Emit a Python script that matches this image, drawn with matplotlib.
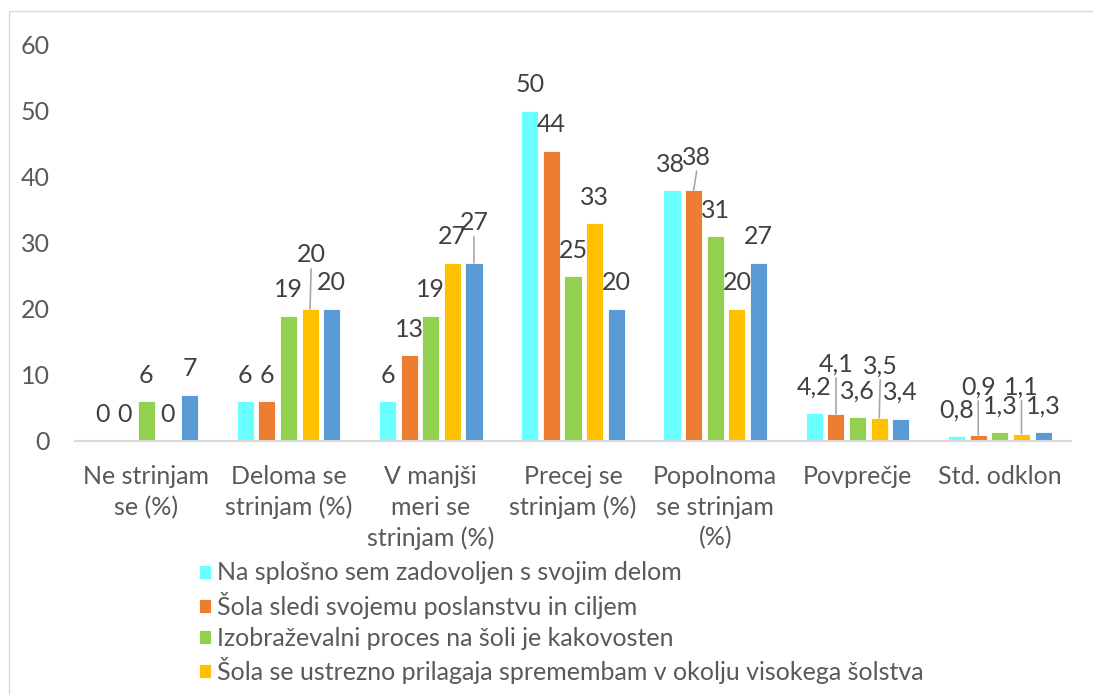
import matplotlib
matplotlib.use('Agg')
import matplotlib.pyplot as plt
from matplotlib.patches import Rectangle

plt.rcParams['font.family'] = ['Lato', 'DejaVu Sans']

categories = ['Ne strinjam\nse (%)', 'Deloma se\nstrinjam (%)', 'V manjši\nmeri se\nstrinjam (%)',
              'Precej se\nstrinjam (%)', 'Popolnoma\nse strinjam\n(%)', 'Povprečje', 'Std. odklon']
series_names = ['Na splošno sem zadovoljen s svojim delom',
                'Šola sledi svojemu poslanstvu in ciljem',
                'Izobraževalni proces na šoli je kakovosten',
                'Šola se ustrezno prilagaja spremembam v okolju visokega šolstva']
zadovoljen = [0, 6, 6, 50, 38, 4.2, 0.8]
poslanstvo = [0, 6, 13, 44, 38, 4.1, 0.9]
proces = [6, 19, 19, 25, 31, 3.6, 1.3]
prilagaja = [0, 20, 27, 33, 20, 3.5, 1.1]
peta = [7, 20, 27, 20, 27, 3.4, 1.3]
series = [zadovoljen, poslanstvo, proces, prilagaja, peta]
colors = ['#69FFFF', '#ED7D31', '#92D050', '#FFC000', '#5B9BD5']

# labels dragged away from the bar by hand: (group, series) -> (dx, extra dy) in pixels
moved = {(1, 3): (1, 28), (2, 4): (0, 14), (4, 0): (-2, 0), (4, 1): (3, 7), (5, 1): (0, 24),
         (5, 3): (1, 26), (6, 1): (0, 22), (6, 3): (0, 21)}

W, H = 1093, 695
fig = plt.figure(figsize=(W / 100, H / 100), dpi=100)
ax = fig.add_axes([75 / W, 1 - 441 / H, (1071 - 75) / W, (441 - 45) / H])

txt = '#595959'
fs = 18
width = 0.12
step = 0.152
bars = []
for i, vals in enumerate(series):
    xs = [g + (i - 2) * step for g in range(len(categories))]
    b = ax.bar(xs, vals, width, color=colors[i], edgecolor='white', linewidth=0.6, zorder=2)
    bars.append(b)
    for g, (x, v) in enumerate(zip(xs, vals)):
        s = ('%g' % v).replace('.', ',')
        dx, extra = moved.get((g, i), (0, 0))
        dy = 26 + extra
        ax.annotate(s, (x, v), xytext=(dx, dy), textcoords='offset pixels',
                    ha='center', va='center', fontsize=fs, color='#404040', zorder=3)
        if extra > 5:
            ax.annotate('', (x, v), xytext=(dx, dy - 14), textcoords='offset pixels',
                        arrowprops=dict(arrowstyle='-', color='#a6a6a6', lw=1.2,
                                        shrinkA=0, shrinkB=0))

ax.set_xlim(-0.5, len(categories) - 0.5)
ax.set_ylim(0, 60)
ax.set_yticks(range(0, 61, 10))
ax.set_xticks(range(len(categories)))
ax.set_xticklabels(categories, linespacing=1.38)
ax.tick_params(axis='both', length=0, labelsize=fs, labelcolor=txt)
ax.tick_params(axis='y', pad=18)
ax.tick_params(axis='x', pad=17.5)
for side in ['top', 'right', 'left']:
    ax.spines[side].set_visible(False)
ax.spines['bottom'].set_color('#d9d9d9')
ax.spines['bottom'].set_linewidth(1.5)

leg = fig.legend(bars[:4], series_names, loc='upper left', bbox_to_anchor=(186 / W, 1 - 549 / H),
                 frameon=False, fontsize=fs, handlelength=0.5, handleheight=0.5,
                 handletextpad=0.25, labelspacing=0.3, borderpad=0)
for t in leg.get_texts():
    t.set_color(txt)

fig.add_artist(Rectangle((9 / W, -0.1), 1.2, 1 - 11 / H + 0.1, transform=fig.transFigure,
                         fill=False, edgecolor='#d9d9d9', linewidth=1))

fig.savefig('out.png', dpi=100, facecolor='white')
